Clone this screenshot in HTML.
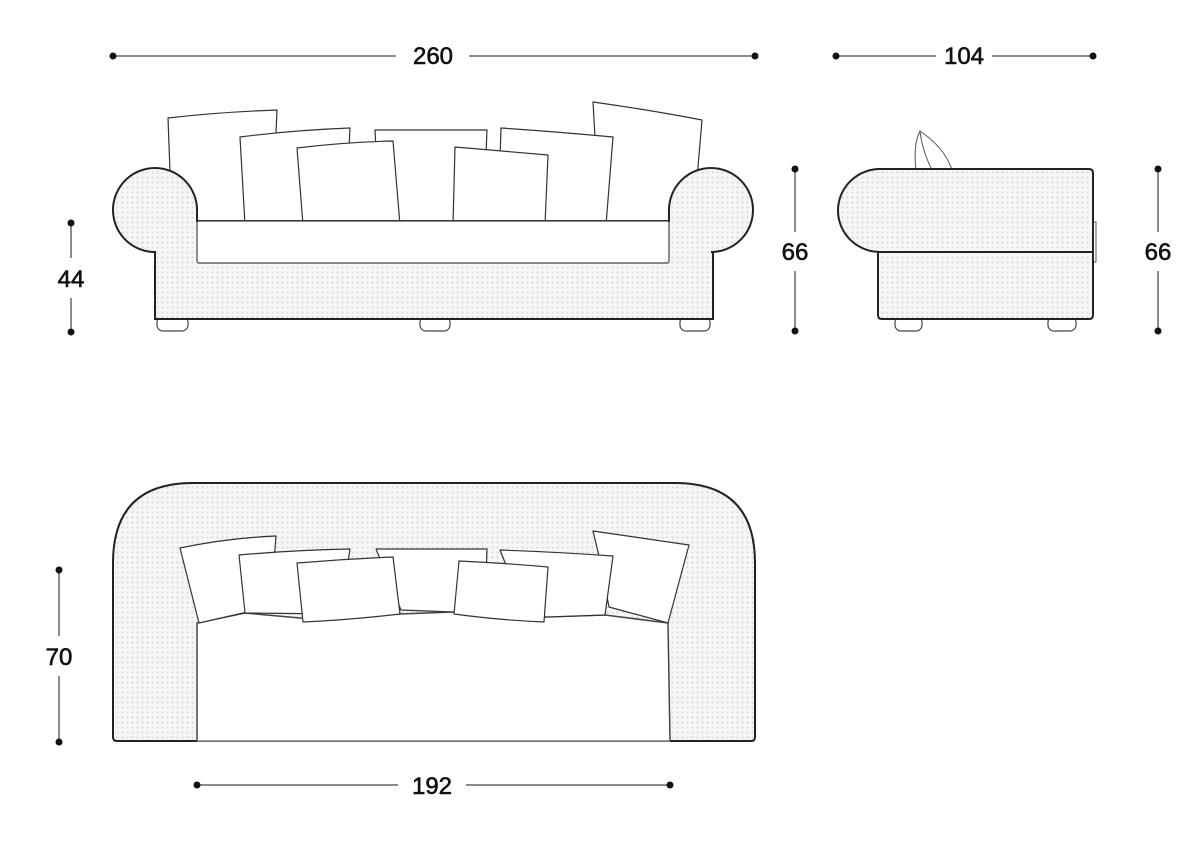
<!DOCTYPE html>
<html><head><meta charset="utf-8"><style>
html,body{margin:0;padding:0;background:#fff;}
svg{display:block;}
text{font-family:"Liberation Sans",sans-serif;font-size:24px;fill:#111;stroke:#111;stroke-width:0.6;}
</style></head><body>
<svg width="1200" height="854" viewBox="0 0 1200 854" xmlns="http://www.w3.org/2000/svg">
<defs>
<pattern id="dots" width="5" height="5" patternUnits="userSpaceOnUse">
<rect width="5" height="5" fill="#f6f6f6"/>
<circle cx="2.5" cy="2.5" r="1" fill="#d4d4d4"/>
</pattern>
</defs>

<g stroke="#666" stroke-width="1.5" fill="none">
<line x1="113" y1="56" x2="396" y2="56"/><line x1="469" y1="56" x2="755" y2="56"/>
<line x1="836" y1="56" x2="936" y2="56"/><line x1="992" y1="56" x2="1093" y2="56"/>
<line x1="71" y1="223" x2="71" y2="258"/><line x1="71" y1="298" x2="71" y2="332"/>
<line x1="795" y1="169" x2="795" y2="232"/><line x1="795" y1="271" x2="795" y2="331"/>
<line x1="1158" y1="169" x2="1158" y2="232"/><line x1="1158" y1="271" x2="1158" y2="331"/>
<line x1="59" y1="570" x2="59" y2="636"/><line x1="59" y1="676" x2="59" y2="742"/>
<line x1="197" y1="785" x2="398" y2="785"/><line x1="466" y1="785" x2="670" y2="785"/>
</g>
<g fill="#111">
<circle cx="113" cy="56" r="3.5"/><circle cx="755" cy="56" r="3.5"/>
<circle cx="836" cy="56" r="3.5"/><circle cx="1093" cy="56" r="3.5"/>
<circle cx="71" cy="223" r="3.5"/><circle cx="71" cy="332" r="3.5"/>
<circle cx="795" cy="169" r="3.5"/><circle cx="795" cy="331" r="3.5"/>
<circle cx="1158" cy="169" r="3.5"/><circle cx="1158" cy="331" r="3.5"/>
<circle cx="59" cy="570" r="3.5"/><circle cx="59" cy="742" r="3.5"/>
<circle cx="197" cy="785" r="3.5"/><circle cx="670" cy="785" r="3.5"/>
</g>
<g text-anchor="middle">
<text x="433" y="64">260</text>
<text x="964" y="64">104</text>
<text x="71" y="287">44</text>
<text x="795" y="260">66</text>
<text x="1158" y="260">66</text>
<text x="59" y="665">70</text>
<text x="432" y="794">192</text>
</g>

<g stroke="#333" stroke-width="1.2" fill="#fff" stroke-linejoin="round">
<path d="M168,118 Q220,112 277,110 L272,225 L172,225 Z"/>
<path d="M593,102 Q650,110 702,120 L693,225 L600,225 Z"/>
<path d="M240,137 Q295,130 350,128 L345,225 L245,225 Z"/>
<path d="M501,128 Q560,132 613,137 L606,225 L498,225 Z"/>
<path d="M375,130 L487,130 L483,225 L380,225 Z"/>
<path d="M297,148 Q345,142 393,141 L400,225 L303,225 Z"/>
<path d="M455,147 Q500,151 548,155 L545,225 L453,225 Z"/>
</g>
<g stroke="#444" stroke-width="1.2" fill="#fff">
<rect x="157" y="316" width="31" height="15" rx="6"/>
<rect x="420" y="316" width="30" height="15" rx="6"/>
<rect x="680" y="316" width="30" height="15" rx="6"/>
</g>
<path d="M155,252 A42,42 0 1 1 197,210 L197,221 L669,221 L669,210 A42,42 0 1 1 711,252 L713,252 L713,319 L155,319 Z" fill="url(#dots)" stroke="#222" stroke-width="2"/>
<rect x="197" y="221" width="472" height="42" rx="2" fill="#fff" stroke="#444" stroke-width="1.2"/>

<g stroke="#555" stroke-width="1" fill="#fff">
<path d="M916,170 Q913,145 920,131 Q945,148 952,170 Z"/>
<path d="M920,131 Q922,150 932,170" fill="none"/>
<rect x="1090" y="222" width="6" height="40" fill="#fff"/>
</g>
<g stroke="#444" stroke-width="1.2" fill="#fff">
<rect x="895" y="316" width="27" height="15" rx="6"/>
<rect x="1048" y="316" width="28" height="15" rx="6"/>
</g>
<path d="M878,252 L1093,252 L1093,315 Q1093,319 1089,319 L882,319 Q878,319 878,315 Z" fill="url(#dots)" stroke="#222" stroke-width="2"/>
<path d="M880,169 L1089,169 Q1093,169 1093,173 L1093,252 L880,252 A42,41.5 0 0 1 880,169 Z" fill="url(#dots)" stroke="#222" stroke-width="2"/>

<path d="M117,741 Q113,741 113,737 L113,563 Q113,483 193,483 L675,483 Q755,483 755,563 L755,737 Q755,741 751,741 Z" fill="url(#dots)" stroke="#222" stroke-width="2"/>
<path d="M197,741 L197,623 L245,613 L300,618 L400,614 L453,612 L546,617 L605,615 L668,623 L670,741 Z" fill="#fff" stroke="#444" stroke-width="1.5"/>
<line x1="197" y1="741" x2="670" y2="741" stroke="#999" stroke-width="1.2"/>
<g stroke="#333" stroke-width="1.2" fill="#fff" stroke-linejoin="round">
<path d="M180,548 Q228,538 276,536 L270,610 L243,613 L199,623 Z"/>
<path d="M593,531 Q640,538 689,545 L668,623 L609,607 L600,560 Z"/>
<path d="M239,555 Q295,550 350,549 L340,614 L245,613 Z"/>
<path d="M500,550 Q557,552 613,556 L605,615 L546,617 L520,600 Z"/>
<path d="M376,549 L487,549 L485,605 L453,612 L401,610 Z"/>
<path d="M297,563 Q345,559 393,557 L400,614 Q350,620 303,622 Z"/>
<path d="M459,561 Q503,563 548,567 L544,622 Q498,620 454,614 Z"/>
</g>
</svg>
</body></html>
